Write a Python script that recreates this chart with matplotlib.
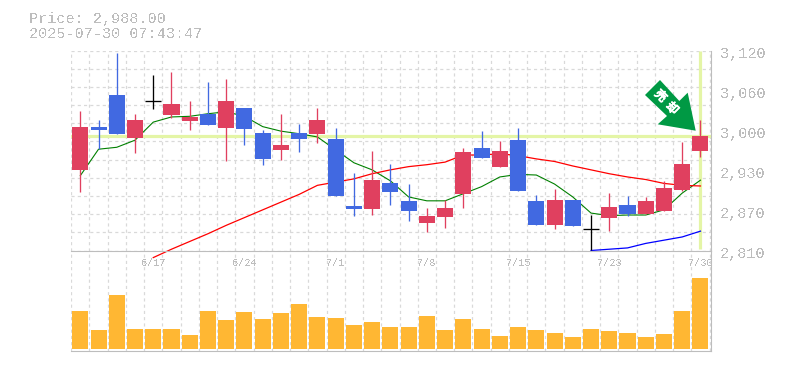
import matplotlib
matplotlib.use("Agg")
import matplotlib.pyplot as plt
import matplotlib.patheffects as pe
from matplotlib.patches import Polygon, Rectangle

# chart is laid out in pixels of the original image
W, H = 785, 370
PANEL_L, PANEL_R = 70.5, 710.5
PRICE_T, PRICE_B = 50.5, 250.5
VOL_B = 350.5

price_ticks = ["3,120", "3,060", "3,000", "2,930", "2,870", "2,810"]
date_labels = ["6/17", "6/24", "7/1", "7/8", "7/15", "7/23", "7/30"]
date_index = [4, 9, 14, 19, 24, 29, 34]
last_price = 2988

# red = up, blue = down, black = open and close the same
kinds = ["r", "b", "b", "r", "k", "r", "r", "b", "r", "b", "b", "r", "b", "r", "b", "b", "r", "b",
         "b", "r", "r", "r", "b", "r", "b", "b", "r", "b", "k", "r", "b", "r", "r", "r", "r"]
opens = [2935, 3001, 3051, 2984, 3041, 3020, 3011, 3022, 3000, 3031, 2992, 2966, 2992, 2991, 2983, 2879, 2874, 2915,
         2887, 2853, 2862, 2898, 2969, 2939, 2981, 2887, 2850, 2888, 2843, 2860, 2881, 2867, 2871, 2904, 2964]
closes = [3001, 2997, 2991, 3012, 3041, 3037, 3017, 3005, 3042, 2998, 2952, 2974, 2983, 3012, 2895, 2874, 2919, 2901,
          2871, 2864, 2876, 2963, 2953, 2964, 2902, 2850, 2888, 2848, 2843, 2877, 2867, 2887, 2907, 2944, 2988]
highs = [3026, 3012, 3116, 3022, 3082, 3087, 3042, 3071, 3076, 3031, 2997, 3022, 3006, 3031, 3000, 2930, 2964, 2944,
         2913, 2876, 2888, 2969, 2995, 2980, 3000, 2896, 2905, 2888, 2865, 2899, 2895, 2893, 2918, 2978, 3012]
lows = [2900, 2967, 2991, 2961, 3029, 3015, 2997, 3005, 2949, 2974, 2943, 2950, 2963, 2977, 2895, 2864, 2865, 2881,
        2856, 2839, 2845, 2876, 2953, 2939, 2902, 2850, 2843, 2848, 2811, 2840, 2864, 2867, 2871, 2902, 2955]

ma_short = [2926, 2967, 2970, 2981, 3009, 3017, 3018, 3022, 3025, 3018, 3002, 2995, 2991, 2986, 2966, 2946, 2935, 2918,
            2893, 2887, 2887, 2898, 2909, 2924, 2928, 2927, 2913, 2893, 2868, 2864, 2865, 2865, 2873, 2899, 2919]
ma_mid = [2799, 2812, 2824, 2836, 2849, 2861, 2873, 2885, 2897, 2911, 2916, 2921, 2929, 2935, 2940, 2943, 2947, 2958,
          2958, 2960, 2957, 2952, 2948, 2941, 2935, 2929, 2924, 2920, 2914, 2911, 2910]
ma_long = [2810, 2812, 2814, 2821, 2826, 2831, 2840]

volumes = [38, 19, 54, 20, 20, 20, 14, 38, 29, 37, 30, 36, 45, 32, 31, 24, 27, 22,
           22, 33, 19, 30, 20, 13, 22, 19, 16, 12, 20, 18, 16, 12, 15, 38, 71]

RED = "#e0405f"
BLUE = "#4169e1"
GRID = "#d9d9d9"
TEXT = "#bdbdbd"
HILITE = "#e4f5a6"
FONT = "Liberation Mono"

plt.rcParams["text.antialiased"] = False

fig = plt.figure(figsize=(W / 100, H / 100), dpi=100, facecolor="white")


def panel(top, bottom):
    return fig.add_axes([PANEL_L / W, 1 - bottom / H, (PANEL_R - PANEL_L) / W, (bottom - top) / H])


ax = panel(PRICE_T, PRICE_B)
vax = panel(PRICE_B, VOL_B)
n = len(closes)
for a in (ax, vax):
    a.set_xlim(-0.537, 34.55)
    a.set_xticks([i - 0.5 for i in range(n + 1)])
    a.tick_params(length=0, labelbottom=False, labelleft=False)
    a.grid(True, axis="x", color=GRID, lw=0.9, ls=(0, (2.5, 2.5)))
    a.set_axisbelow(True)
    a.patch.set_alpha(0)
    for s in a.spines.values():
        s.set_visible(False)
    a.spines["right"].set_visible(True)
    a.spines["right"].set_color("#bdbdbd")
    a.spines["bottom"].set_visible(True)
    a.spines["bottom"].set_color("#bdbdbd")

ax.set_ylim(2810, 3120)
ax.set_yticks([2810 + i * 310 / 11 for i in range(12)])
ax.grid(True, axis="y", color=GRID, lw=0.9, ls=(0, (2.5, 2.5)))

# current price cross
ax.axhline(last_price, color=HILITE, lw=2.3, zorder=1.5)
ax.plot([n - 1, n - 1], [2812, 3120], color=HILITE, lw=2.3, zorder=1.5, solid_capstyle="butt")

xs = list(range(n))
ax.plot(xs, ma_short, color="#008000", lw=0.8, zorder=2)
ax.plot(xs[4:], ma_mid, color="#ff0000", lw=0.9, zorder=2, clip_on=False)
ax.plot(xs[28:], ma_long, color="#0000ff", lw=0.9, zorder=2, clip_on=False)

colors = {"r": RED, "b": BLUE, "k": "black"}
for i in xs:
    c = colors[kinds[i]]
    ax.plot([i, i], [lows[i], highs[i]], color=c, lw=0.95, zorder=3, solid_capstyle="butt", clip_on=False)
    top, bot = max(opens[i], closes[i]), min(opens[i], closes[i])
    if kinds[i] == "k":
        ax.plot([i - 0.44, i + 0.44], [closes[i], closes[i]], color=c, lw=0.95, zorder=3, solid_capstyle="butt")
    else:
        ax.add_patch(Rectangle((i - 0.44, bot), 0.88, top - bot, color=c, lw=0, zorder=3))

vax.set_ylim(-2, 98)
vax.bar(xs, volumes, width=0.88, color="#ffb733", zorder=3)

for lab, i in zip(date_labels, date_index):
    vax.annotate(lab, (i, 98), xytext=(0, -12), textcoords="offset pixels", ha="center", va="center",
                 color=TEXT, family=FONT, fontsize=7.4, annotation_clip=False)

for k, lab in enumerate(price_ticks):
    fig.text(720 / W, 1 - (54 + k * 40) / H, lab, color=TEXT, family=FONT, fontsize=11, ha="left", va="center")

fig.text(29 / W, 1 - 19 / H, "Price: 2,988.00", color=TEXT, family=FONT, fontsize=10.9, ha="left", va="center")
fig.text(29 / W, 1 - 34 / H, "2025-07-30 07:43:47", color=TEXT, family=FONT, fontsize=10.9, ha="left", va="center")

# sell arrow badge
arrow_px = [(660, 80), (645, 95), (667, 116), (657.7, 124.3), (695.7, 130.7), (687.7, 92.7), (679.3, 101)]
fig.add_artist(Polygon([(x / W, 1 - y / H) for x, y in arrow_px], closed=True, color="#009944", lw=0,
                       transform=fig.transFigure, zorder=5))
for ch, (x, y) in zip("売却", [(660.7, 96), (672.3, 108.3)]):
    fig.text(x / W, 1 - y / H, ch, color="white", family="Noto Sans CJK JP", fontsize=8.5, rotation=-45,
             ha="center", va="center", rotation_mode="anchor", zorder=6, antialiased=True,
             path_effects=[pe.withStroke(linewidth=0.7, foreground="white")])

fig.savefig("out.png", dpi=100)
